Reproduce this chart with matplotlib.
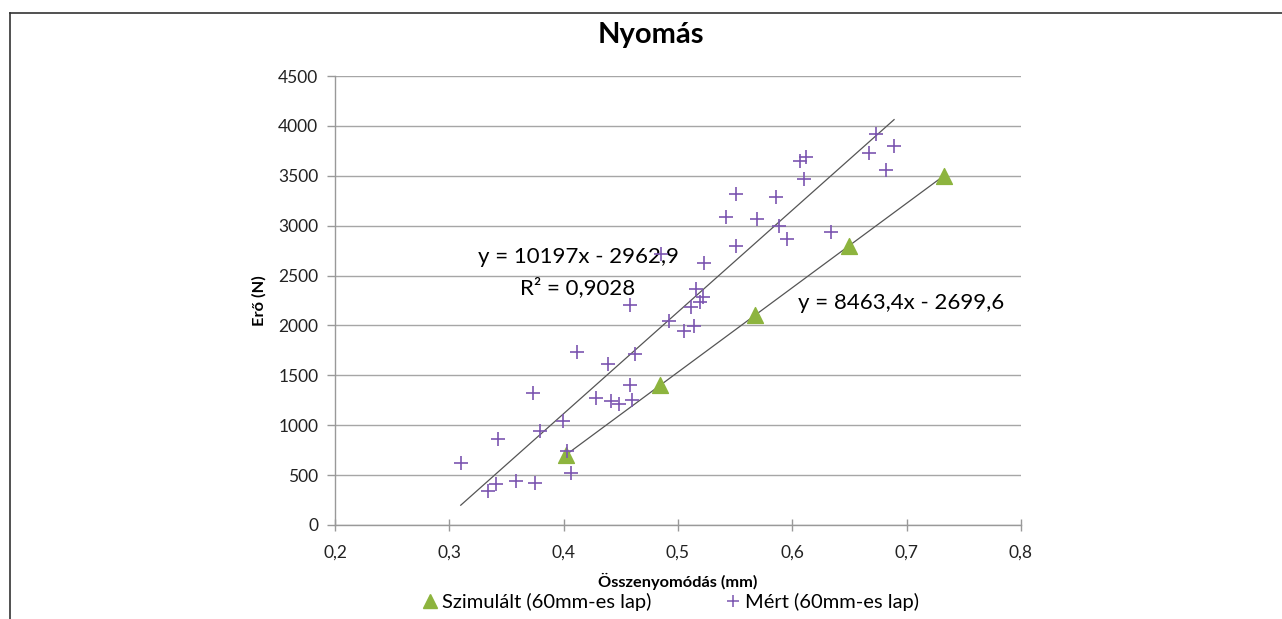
import matplotlib.pyplot as plt
from matplotlib.lines import Line2D

plt.rcParams['font.family'] = ['Lato', 'DejaVu Sans']

# Simulated (60mm plate)
sim_x = [0.4017, 0.4844, 0.5671, 0.6498, 0.7325]
sim_y = [700, 1400, 2100, 2800, 3500]

# Measured (60mm plate)
mert_x = [0.310, 0.334, 0.341, 0.343, 0.358, 0.375, 0.3735, 0.379, 0.399, 0.403,
          0.406, 0.412, 0.428, 0.439, 0.441, 0.448, 0.458, 0.458, 0.460, 0.462,
          0.485, 0.492, 0.505, 0.511, 0.514, 0.516, 0.519, 0.522, 0.523, 0.542,
          0.551, 0.551, 0.569, 0.586, 0.588, 0.595, 0.607, 0.612, 0.610, 0.634,
          0.667, 0.6734, 0.682, 0.689]
mert_y = [618, 341, 408, 859, 441, 418, 1320, 945, 1045, 745,
          518, 1737, 1276, 1610, 1246, 1209, 2204, 1403, 1253, 1713,
          2715, 2047, 1947, 2188, 1994, 2365, 2238, 2288, 2622, 3083,
          2799, 3320, 3066, 3287, 2999, 2866, 3647, 3691, 3464, 2939,
          3724, 3915, 3554, 3801]

# trend line coefficients (slope, intercept) as printed on the chart
mert_fit = (10197, -2962.9)
sim_fit = (8463.4, -2699.6)

fig = plt.figure(figsize=(12.82, 6.19), dpi=100)
ax = fig.add_axes([0.2613, 0.1519, 0.5351, 0.7253])

# trend lines
for xs, (m, b) in ((mert_x, mert_fit), (sim_x, sim_fit)):
    x0, x1 = min(xs), max(xs)
    ax.plot([x0, x1], [m * x0 + b, m * x1 + b], color='#555555', lw=0.9, zorder=3)

ax.scatter(sim_x, sim_y, marker='^', s=130, color='#8DB43E', zorder=4,
           label='Szimulált (60mm-es lap)')
ax.scatter(mert_x, mert_y, marker='+', s=90, color='#7B55B0', linewidths=1.2, zorder=5,
           label='Mért (60mm-es lap)')

ax.set_xlim(0.2, 0.8)
ax.set_ylim(0, 4500)
ax.set_xticks([0.2, 0.3, 0.4, 0.5, 0.6, 0.7, 0.8])
ax.set_xticklabels(['0,2', '0,3', '0,4', '0,5', '0,6', '0,7', '0,8'])
ax.set_yticks(range(0, 4501, 500))
ax.tick_params(labelsize=12.5, colors='#222222', width=1, color='#999999')
ax.tick_params(axis='x', direction='inout', length=8, pad=10)
ax.tick_params(axis='y', direction='out', length=6, pad=6)
ax.grid(axis='y', color='#a6a6a6', lw=1)
ax.set_axisbelow(True)
for side in ('top', 'right'):
    ax.spines[side].set_visible(False)
for side in ('left', 'bottom'):
    ax.spines[side].set_color('#999999')
    ax.spines[side].set_linewidth(1)

ax.set_xlabel('Összenyomódás (mm)', fontsize=11.8, fontweight='bold', labelpad=9)
ax.set_ylabel('Erő (N)', fontsize=11.8, fontweight='bold', labelpad=8)
fig.text(651 / 1282, 1 - 35 / 619, 'Nyomás', fontsize=21, fontweight='bold',
         ha='center', va='center')

# equations
ax.text(0.4126, 2685, 'y = 10197x - 2962,9', fontsize=16, ha='center', va='center')
ax.text(0.4126, 2380, 'R² = 0,9028', fontsize=16, ha='center', va='center')
ax.text(0.695, 2225, 'y = 8463,4x - 2699,6', fontsize=16, ha='center', va='center')

handles = [Line2D([], [], marker='^', ls='', color='#8DB43E', markersize=10),
           Line2D([], [], marker='+', ls='', color='#7B55B0', markersize=9, mew=1.1)]
fig.legend(handles, ['Szimulált (60mm-es lap)', 'Mért (60mm-es lap)'],
           loc='center', bbox_to_anchor=(0.522, 0.027), ncol=2, frameon=False,
           fontsize=14.5, handletextpad=0.05, columnspacing=3.5, handlelength=1.1)

# outer chart frame (top and left edges visible)
fig.add_artist(Line2D([10 / 1282, 1], [1 - 13 / 619, 1 - 13 / 619],
                      transform=fig.transFigure, color='#333333', lw=1.2))
fig.add_artist(Line2D([10 / 1282, 10 / 1282], [0, 1 - 13 / 619],
                      transform=fig.transFigure, color='#333333', lw=1.2))

fig.savefig('out.png', dpi=100)
